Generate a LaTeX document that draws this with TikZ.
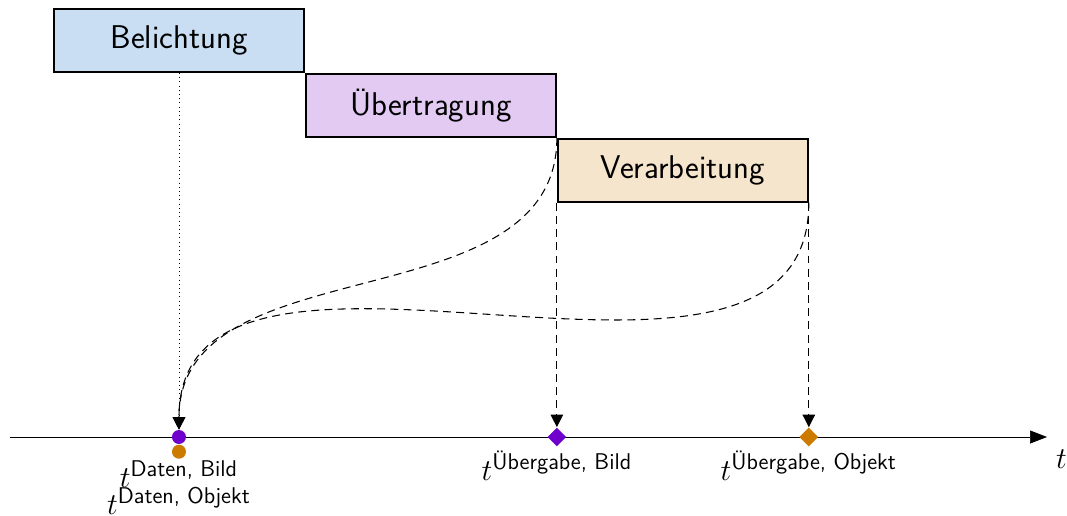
\documentclass[tikz,border=0pt]{standalone}
\usepackage{amsmath}
\usetikzlibrary{arrows.meta, positioning, shapes.geometric}

\definecolor{belichtungblau}{HTML}{C9DEF3}
\definecolor{uebertragunglila}{HTML}{E2CAF3}
\definecolor{verarbeitungbeige}{HTML}{F5E5CC}
\definecolor{bildlila}{HTML}{7000CC}
\definecolor{objektorange}{HTML}{CC7A00}

\begin{document}
\begin{tikzpicture}[
    phase/.style={draw,line width=1.1pt,minimum width=5cm,minimum height=1.26cm,
        font=\fontsize{18.7}{22}\selectfont\sffamily,anchor=north west},
    zeitpunkt/.style={circle,inner sep=0pt,minimum size=0.28cm},
    uebergabe/.style={diamond,inner sep=0pt,minimum size=0.38cm},
    marke/.style={font=\fontsize{18.5}{22}\selectfont\sffamily,inner sep=1pt},
    fluss/.style={dashed,dash pattern=on 4.5pt off 3pt,semithick,
        -{Triangle[length=2.5mm,width=2.5mm]}},
    zeitachse/.style={-{Triangle[length=3.4mm,width=2.6mm]}}
]

\useasboundingbox (0,0) rectangle (21.34,10.3);

% =========================
% Phasen
% =========================
\node[phase,fill=belichtungblau] (belichtung) at (1.06,10.14) {Belichtung};
\node[phase,fill=uebertragunglila] (uebertragung) at (belichtung.south east) {Übertragung};
\node[phase,fill=verarbeitungbeige] (verarbeitung) at (uebertragung.south east) {Verarbeitung};

% =========================
% Zeitachse
% =========================
\coordinate (A0) at (0.2,1.56);
\coordinate (A1) at (20.94,1.56);
\draw[zeitachse] (A0) -- (A1);
\node[marke,anchor=north west,xshift=4pt,yshift=-6pt] (tachse) at (A1) {$t$};

% Zeitpunkte auf der Achse
\node[zeitpunkt,fill=bildlila] (datenbild) at (belichtung.south |- A0) {};
\node[zeitpunkt,fill=objektorange,below=0pt of datenbild] (datenobjekt) {};
\node[uebergabe,fill=bildlila] (uebergabebild) at (verarbeitung.south west |- A0) {};
\node[uebergabe,fill=objektorange] (uebergabeobjekt) at (verarbeitung.south east |- A0) {};

% Beschriftungen
\node[marke,below=0pt of datenobjekt] (ldatenbild) {$t^{\text{Daten, Bild}}$};
\node[marke,below=-3pt of ldatenbild] (ldatenobjekt) {$t^{\text{Daten, Objekt}}$};
\node[marke,below=1pt of uebergabebild] (luebergabebild) {$t^{\text{Übergabe, Bild}}$};
\node[marke,below=1pt of uebergabeobjekt] (luebergabeobjekt) {$t^{\text{Übergabe, Objekt}}$};

% =========================
% Verbindungen
% =========================
\draw[dotted] (belichtung.south) -- (datenbild.north);
\draw[fluss] (verarbeitung.south west) -- (uebergabebild.north);
\draw[fluss] (verarbeitung.south east) -- (uebergabeobjekt.north);
\draw[fluss] (verarbeitung.north west) to[out=-90,in=90] (datenbild.north);
\draw[fluss] (verarbeitung.south east) to[out=-90,in=90] (datenbild.north);

\end{tikzpicture}
\end{document}
